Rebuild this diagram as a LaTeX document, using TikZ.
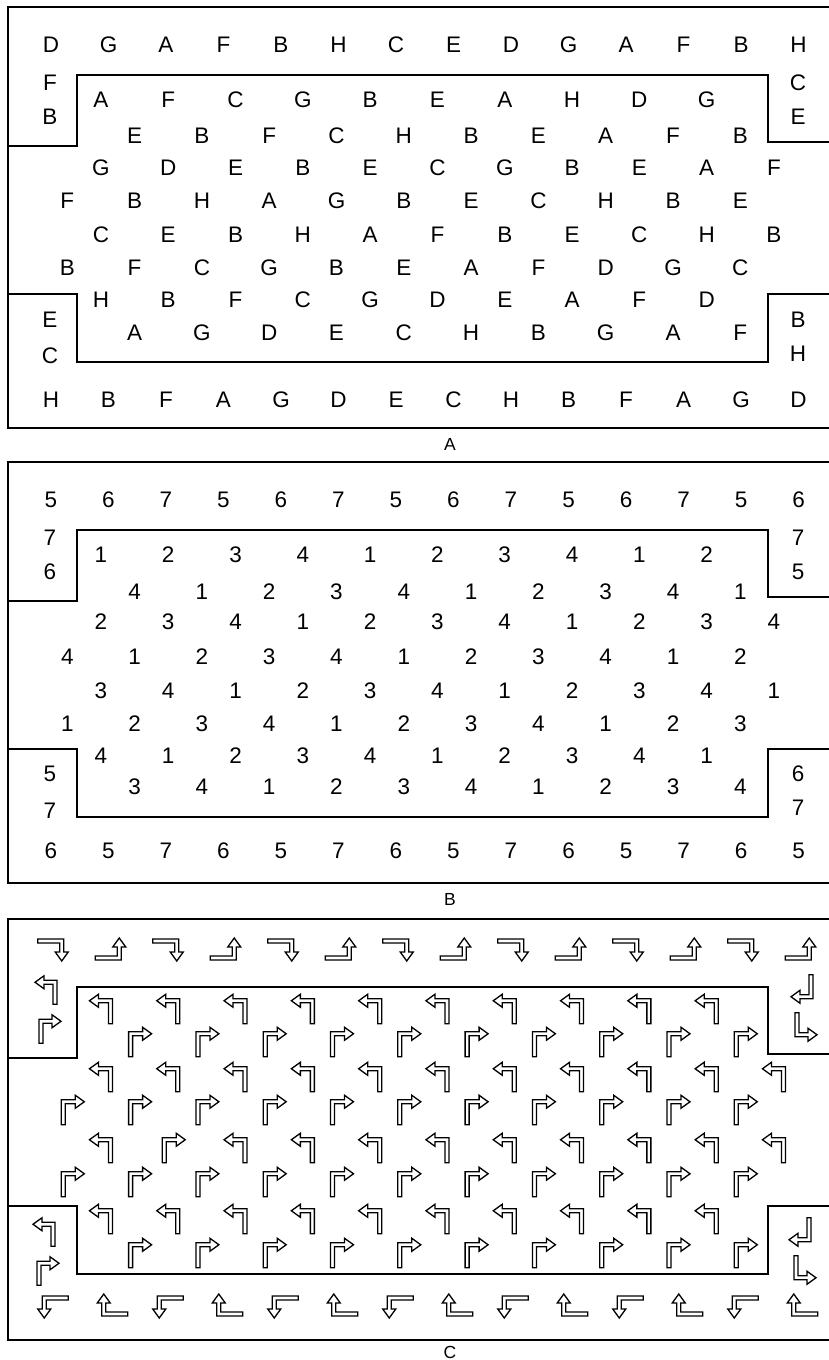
\documentclass[tikz,border=0pt]{standalone}
\usepackage{fontspec}
\setmainfont{Liberation Sans}
\tikzset{
  arrowline/.style={line width=1.3pt,fill=white,line join=miter},
  % hollow turn arrow: #1 head direction, #2 stem direction, #3 stem, #4 head leg
  pics/turn/.style n args={4}{code={
    \draw[arrowline,x={#1},y={#2},shift={({-(#4-2)/2},{-(#3+6.5)/2})}]
      (-2,0) -- (-2,#3+2) -- (#4-9,#3+2) -- (#4-9,#3+6.5) -- (#4,#3)
      -- (#4-9,#3-6.5) -- (#4-9,#3-2) -- (2,#3-2) -- (2,0) -- cycle;
  }}
}

\begin{document}
\begin{tikzpicture}[x=1pt,y=-1pt,
  frame/.style={line width=1.4pt},
  cell/.style={inner sep=0pt,font=\fontsize{22.5}{25}\selectfont},
  tag/.style={inner sep=0pt,font=\fontsize{17.5}{20}\selectfont}]
  \useasboundingbox (0,0) rectangle (829,1360);
  % three boards, cut open at the right edge
  \foreach \dy/\lab/\ly in {0/A/444,455/B/444,912/C/440}{
    \begin{scope}[shift={(0,\dy)}]
      \draw[frame] (840,7) -- (8,7) -- (8,428) -- (840,428);
      \draw[frame] (8,146) -- (77,146) -- (77,75) -- (768,75) -- (768,142) -- (840,142);
      \draw[frame] (8,294) -- (77,294) -- (77,362) -- (768,362) -- (768,294) -- (840,294);
      \node[tag] (lab-\lab) at (450,\ly) {\lab};
    \end{scope}
  }

  % board A: letters
  \foreach \t [count=\i from 0] in {D,G,A,F,B,H,C,E,D,G,A,F,B,H}
    \node[cell] (a-top-\i) at ({51+57.5*\i},45) {\t};
  \foreach \t [count=\i from 0] in {H,B,F,A,G,D,E,C,H,B,F,A,G,D}
    \node[cell] (a-bot-\i) at ({51+57.5*\i},400) {\t};
  \node[cell] (a-l1) at (50,83) {F};
  \node[cell] (a-l2) at (50,117) {B};
  \node[cell] (a-r1) at (798,83) {C};
  \node[cell] (a-r2) at (798,117) {E};
  \node[cell] (a-l3) at (50,320) {E};
  \node[cell] (a-l4) at (50,356) {C};
  \node[cell] (a-r3) at (798,320) {B};
  \node[cell] (a-r4) at (798,354) {H};
  \foreach \r/\y/\k/\lst in {1/100/1/{A,F,C,G,B,E,A,H,D,G},2/136/2/{E,B,F,C,H,B,E,A,F,B},
      3/168/1/{G,D,E,B,E,C,G,B,E,A,F},4/201/0/{F,B,H,A,G,B,E,C,H,B,E},
      5/235/1/{C,E,B,H,A,F,B,E,C,H,B},6/268/0/{B,F,C,G,B,E,A,F,D,G,C},
      7/300/1/{H,B,F,C,G,D,E,A,F,D},8/333/2/{A,G,D,E,C,H,B,G,A,F}}
    \foreach \t [count=\i from 0] in \lst
      \node[cell] (a-\r-\i) at ({67.3+33.65*(\k+2*\i)},\y) {\t};

  % board B: numbers
  \begin{scope}[shift={(0,455)}]
    \foreach \t [count=\i from 0] in {5,6,7,5,6,7,5,6,7,5,6,7,5,6}
      \node[cell] (b-top-\i) at ({51+57.5*\i},45) {\t};
    \foreach \t [count=\i from 0] in {6,5,7,6,5,7,6,5,7,6,5,7,6,5}
      \node[cell] (b-bot-\i) at ({51+57.5*\i},396) {\t};
    \node[cell] (b-l1) at (50,83) {7};
    \node[cell] (b-l2) at (50,117) {6};
    \node[cell] (b-r1) at (798,83) {7};
    \node[cell] (b-r2) at (798,117) {5};
    \node[cell] (b-l3) at (50,319) {5};
    \node[cell] (b-l4) at (50,356) {7};
    \node[cell] (b-r3) at (798,319) {6};
    \node[cell] (b-r4) at (798,353) {7};
    \foreach \r/\y/\k/\lst in {1/100/1/{1,2,3,4,1,2,3,4,1,2},2/137/2/{4,1,2,3,4,1,2,3,4,1},
        3/167/1/{2,3,4,1,2,3,4,1,2,3,4},4/202/0/{4,1,2,3,4,1,2,3,4,1,2},
        5/236/1/{3,4,1,2,3,4,1,2,3,4,1},6/269/0/{1,2,3,4,1,2,3,4,1,2,3},
        7/301/1/{4,1,2,3,4,1,2,3,4,1},8/332/2/{3,4,1,2,3,4,1,2,3,4}}
      \foreach \t [count=\i from 0] in \lst
        \node[cell] (b-\r-\i) at ({67.3+33.65*(\k+2*\i)},\y) {\t};
  \end{scope}

  % board C: turn arrows
  \foreach \i in {0,2,...,12}
    \pic at ({53+57.5*\i},950) {turn={(0pt,-1pt)}{(1pt,0pt)}{24}{20}};
  \foreach \i in {1,3,...,13}
    \pic at ({53+57.5*\i},949) {turn={(0pt,1pt)}{(1pt,0pt)}{24}{20}};
  \foreach \i in {0,2,...,12}
    \pic at ({53+57.5*\i},1307) {turn={(0pt,-1pt)}{(-1pt,0pt)}{24}{20}};
  \foreach \i in {1,3,...,13}
    \pic at ({55+57.5*\i},1305) {turn={(0pt,1pt)}{(-1pt,0pt)}{24}{20}};
  \pic at (46,990) {turn={(-1pt,0pt)}{(0pt,1pt)}{22}{20}};
  \pic at (50,1029) {turn={(1pt,0pt)}{(0pt,1pt)}{22}{20}};
  \pic at (802,989) {turn={(-1pt,0pt)}{(0pt,-1pt)}{22}{20}};
  \pic at (806,1027) {turn={(1pt,0pt)}{(0pt,-1pt)}{22}{20}};
  \pic at (44,1232) {turn={(-1pt,0pt)}{(0pt,1pt)}{22}{20}};
  \pic at (48,1271) {turn={(1pt,0pt)}{(0pt,1pt)}{22}{20}};
  \pic at (800,1232) {turn={(-1pt,0pt)}{(0pt,-1pt)}{22}{20}};
  \pic at (805,1270) {turn={(1pt,0pt)}{(0pt,-1pt)}{22}{20}};
  \foreach \y/\k/\lst in {1009/1/{-1,-1,-1,-1,-1,-1,-1,-1,-1,-1},1042/2/{1,1,1,1,1,1,1,1,1,1},
      1077/1/{-1,-1,-1,-1,-1,-1,-1,-1,-1,-1,-1},1110/0/{1,1,1,1,1,1,1,1,1,1,1},
      1148/1/{-1,1,-1,-1,-1,-1,-1,-1,-1,-1,-1},1182/0/{1,1,1,1,1,1,1,1,1,1,1},
      1219/1/{-1,-1,-1,-1,-1,-1,-1,-1,-1,-1},1253/2/{1,1,1,1,1,1,1,1,1,1}}
    \foreach \s [count=\i from 0] in \lst
      \pic at ({67.3+33.65*(\k+2*\i)+2.75*(\s+1)},\y) {turn={(\s pt,0pt)}{(0pt,1pt)}{23}{21}};
\end{tikzpicture}
\end{document}
